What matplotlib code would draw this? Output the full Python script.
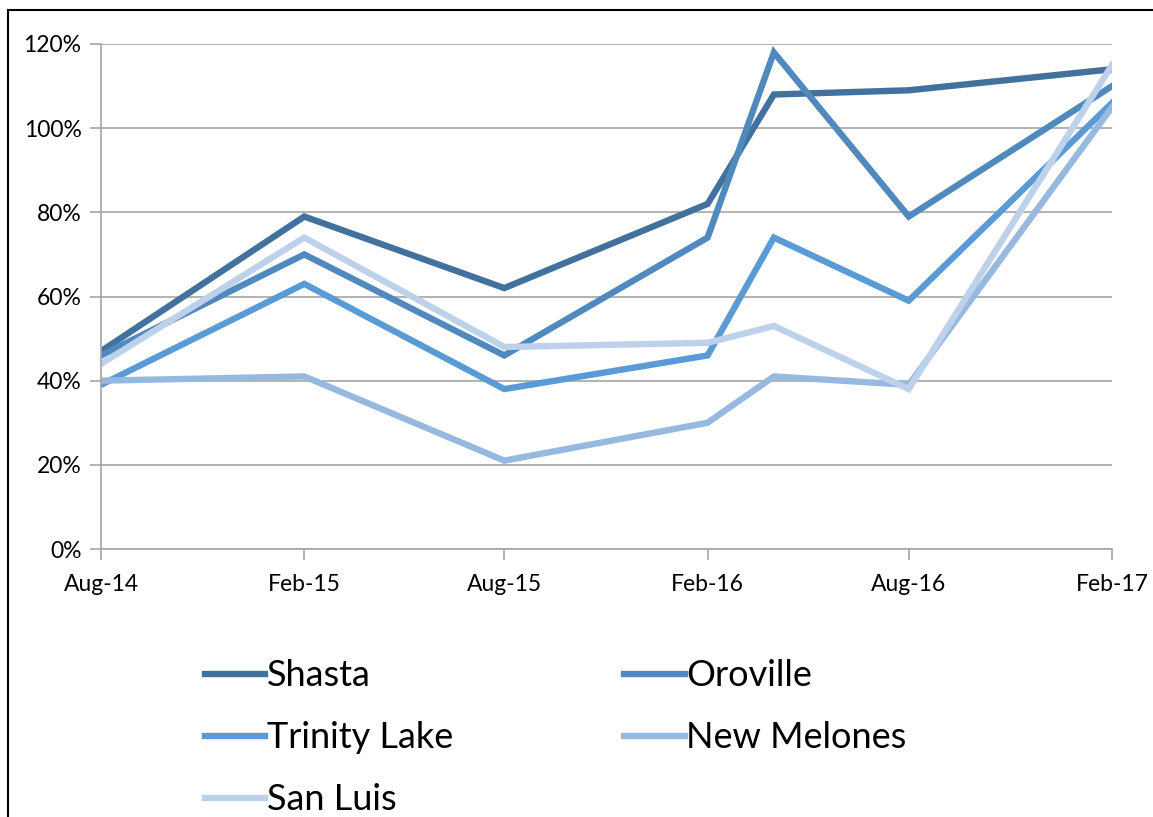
import numpy as np
import matplotlib.pyplot as plt
import matplotlib.dates as mdates
from matplotlib.lines import Line2D
from matplotlib.ticker import FuncFormatter

plt.rcParams['font.family'] = ['Lato', 'DejaVu Sans']

dates = np.array(['2014-08-01', '2015-02-01', '2015-08-01', '2016-02-01',
                  '2016-04-01', '2016-08-01', '2017-02-01'], dtype='datetime64[D]')
tick_dates = np.array(['2014-08-01', '2015-02-01', '2015-08-01', '2016-02-01',
                       '2016-08-01', '2017-02-01'], dtype='datetime64[D]')

shasta = [47, 79, 62, 82, 108, 109, 114]
oroville = [46, 70, 46, 74, 118, 79, 110]
trinity = [39, 63, 38, 46, 74, 59, 106]
new_melones = [40, 41, 21, 30, 41, 39, 105]
san_luis = [44, 74, 48, 49, 53, 38, 115]

names = ["Shasta", "Oroville", "Trinity Lake", "New Melones", "San Luis"]
series = [shasta, oroville, trinity, new_melones, san_luis]
colors = ["#41719C", "#4F89BD", "#5B9BD5", "#97B9E0", "#BDD1EA"]

fig = plt.figure(figsize=(11.53, 8.17), dpi=100)
ax = fig.add_axes([101/1153, 1-549/817, (1112-101)/1153, (549-44)/817])

lines = []
for name, vals, c in zip(names, series, colors):
    ln, = ax.plot(dates, vals, color=c, lw=4.6, label=name, solid_joinstyle='miter')
    lines.append(ln)

ax.set_ylim(0, 120)
ax.set_yticks(np.arange(0, 121, 20))
ax.yaxis.set_major_formatter(FuncFormatter(lambda v, p: f"{v:.0f}%"))
ax.set_xlim(tick_dates[0], tick_dates[-1])
ax.set_xticks(tick_dates)
ax.xaxis.set_major_formatter(mdates.DateFormatter('%b-%y'))

ax.grid(axis='y', color='#A6A6A6', lw=1.2)
ax.set_axisbelow(True)
for s in ['top', 'right']:
    ax.spines[s].set_visible(False)
for s in ['left', 'bottom']:
    ax.spines[s].set_color('#A6A6A6')
    ax.spines[s].set_linewidth(1.2)
ax.tick_params(axis='both', colors='#A6A6A6', width=1.2, length=8,
               labelcolor='black', labelsize=16.5)
ax.tick_params(axis='y', pad=6)
ax.tick_params(axis='x', pad=10)

# legend filled row by row, as in the original
order = [0, 2, 4, 1, 3]
fig.legend([lines[i] for i in order], [names[i] for i in order],
           loc='upper left', bbox_to_anchor=(172/1153, 1-627/817), ncol=2,
           frameon=False, fontsize=26, handlelength=1.67, handletextpad=0.05,
           columnspacing=4.75, labelspacing=0.8)

# outer frame (left and top only)
fig.add_artist(Line2D([8/1153, 8/1153], [0, 1-10/817], color='black', lw=1.5,
                      transform=fig.transFigure))
fig.add_artist(Line2D([8/1153, 1], [1-10/817, 1-10/817], color='black', lw=1.5,
                      transform=fig.transFigure))

fig.savefig('out.png', dpi=100, facecolor='white')
